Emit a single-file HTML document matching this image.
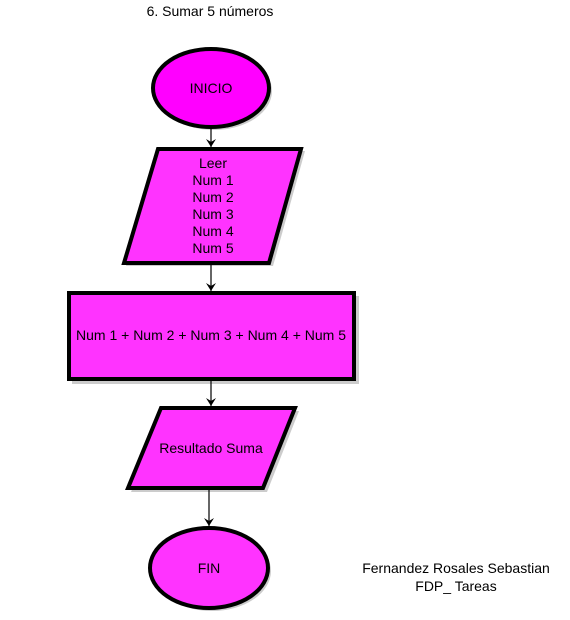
<!DOCTYPE html>
<html><head><meta charset="utf-8"><style>
body{margin:0;background:#fff;width:570px;height:615px;overflow:hidden}
svg text{font-family:"Liberation Sans",sans-serif;font-size:14px;fill:#000}
</style></head><body>
<svg width="570" height="615" xmlns="http://www.w3.org/2000/svg">
<defs><marker id="a" markerWidth="10" markerHeight="10" refX="8" refY="5" orient="auto" markerUnits="userSpaceOnUse"><path d="M0,0 L8,5 L0,10 L3,5 Z" fill="#000"/></marker></defs>
<text x="210" y="16" text-anchor="middle">6. Sumar 5 números</text>
<g fill="#ccc">
<ellipse cx="214" cy="91" rx="58" ry="39"/>
<polygon points="161,151 305,151 273,266 126,266"/>
<rect x="72" y="296" width="287" height="88"/>
<polygon points="164,411 299,411 267,492 131,492"/>
<ellipse cx="212" cy="571" rx="59" ry="40"/>
</g>
<ellipse cx="211" cy="88" rx="58" ry="39" fill="#ff00ff" stroke="#000" stroke-width="4"/>
<polygon points="158,149 301,149 269,263 124,263" fill="#ff33ff" stroke="#000" stroke-width="4"/>
<rect x="69" y="293" width="285" height="86" fill="#ff33ff" stroke="#000" stroke-width="4"/>
<polygon points="161,408 295,408 263,488 128,488" fill="#ff33ff" stroke="#000" stroke-width="4"/>
<ellipse cx="209" cy="568" rx="59" ry="40" fill="#ff33ff" stroke="#000" stroke-width="4"/>
<g stroke="#000" stroke-width="1.2" marker-end="url(#a)">
<line x1="211" y1="128" x2="211" y2="147"/>
<line x1="211" y1="265" x2="211" y2="291"/>
<line x1="211" y1="381" x2="211" y2="406"/>
<line x1="209" y1="490" x2="209" y2="526"/>
</g>
<text x="211" y="93" text-anchor="middle">INICIO</text>
<text text-anchor="middle"><tspan x="213" y="168">Leer</tspan><tspan x="213" y="185">Num 1</tspan><tspan x="213" y="202">Num 2</tspan><tspan x="213" y="219">Num 3</tspan><tspan x="213" y="236">Num 4</tspan><tspan x="213" y="253">Num 5</tspan></text>
<text x="211" y="340" text-anchor="middle">Num 1 + Num 2 + Num 3 + Num 4 + Num 5</text>
<text x="211" y="453" text-anchor="middle">Resultado Suma</text>
<text x="209" y="573" text-anchor="middle">FIN</text>
<text x="456" y="573" text-anchor="middle">Fernandez Rosales Sebastian</text>
<text x="456" y="591" text-anchor="middle">FDP_ Tareas</text>
</svg>
</body></html>
